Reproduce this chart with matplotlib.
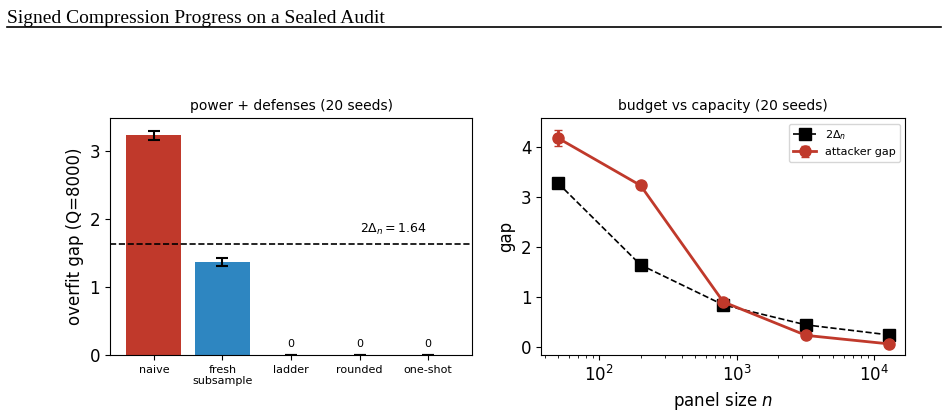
import matplotlib.pyplot as plt
from matplotlib.lines import Line2D

# left panel: overfit gap per defense
defenses = ["naive", "fresh\nsubsample", "ladder", "rounded", "one-shot"]
gap_mean = [3.235, 1.37, 0.0, 0.0, 0.0]
gap_err = [0.07, 0.06, 0.0, 0.0, 0.0]
bar_colors = ["#c0392b", "#2e86c1", "#2e86c1", "#2e86c1", "#2e86c1"]
threshold = 1.64

# right panel: budget vs capacity
panel_n = [50, 200, 800, 3200, 12800]
two_delta = [3.28, 1.64, 0.84, 0.44, 0.24]
attack_gap = [4.18, 3.23, 0.90, 0.23, 0.06]
attack_err = [0.17, 0.04, 0.02, 0.02, 0.01]

fig = plt.figure(figsize=(9.48, 4.17), dpi=100)
fig.text(0.007, 0.975, "Signed Compression Progress on a Sealed Audit",
         family="Liberation Serif", fontsize=14, va="top", ha="left")
fig.add_artist(Line2D([0.007, 0.993], [0.935, 0.935], color="black", lw=1.2,
                      transform=fig.transFigure))

ax1 = fig.add_axes([0.116, 0.149, 0.382, 0.568])
xs = range(len(defenses))
ax1.bar(xs, gap_mean, width=0.8, color=bar_colors, yerr=gap_err,
        capsize=4, error_kw=dict(ecolor="black", elinewidth=1.5, capthick=1.5))
for i, v in enumerate(gap_mean):
    if v == 0:
        ax1.text(i, 0.08, "0", ha="center", va="bottom", fontsize=8)
ax1.axhline(threshold, color="black", ls="--", lw=1.2)
ax1.text(3.5, threshold + 0.1, r"$2\Delta_n = 1.64$", ha="center",
         va="bottom", fontsize=9)
ax1.set_xticks(list(xs))
ax1.set_xticklabels(defenses, fontsize=8)
ax1.set_ylim(0, 3.49)
ax1.set_yticks([0, 1, 2, 3])
ax1.tick_params(axis="y", labelsize=12)
ax1.set_ylabel("overfit gap (Q=8000)", fontsize=12)
ax1.set_title("power + defenses (20 seeds)", fontsize=10)

ax2 = fig.add_axes([0.571, 0.149, 0.384, 0.568])
ax2.plot(panel_n, two_delta, "s--", color="black", ms=8, lw=1.2,
         label=r"$2\Delta_n$")
ax2.errorbar(panel_n, attack_gap, yerr=attack_err, fmt="o-", color="#c0392b",
             ms=8, lw=2, capsize=3, label="attacker gap")
ax2.set_xscale("log")
ax2.set_ylim(-0.16, 4.58)
ax2.set_yticks([0, 1, 2, 3, 4])
ax2.tick_params(labelsize=12)
ax2.set_xlabel("panel size $n$", fontsize=12)
ax2.set_ylabel("gap", fontsize=12)
ax2.set_title("budget vs capacity (20 seeds)", fontsize=10)
ax2.legend(loc="upper right", fontsize=8)

fig.savefig("out.png", dpi=100)
